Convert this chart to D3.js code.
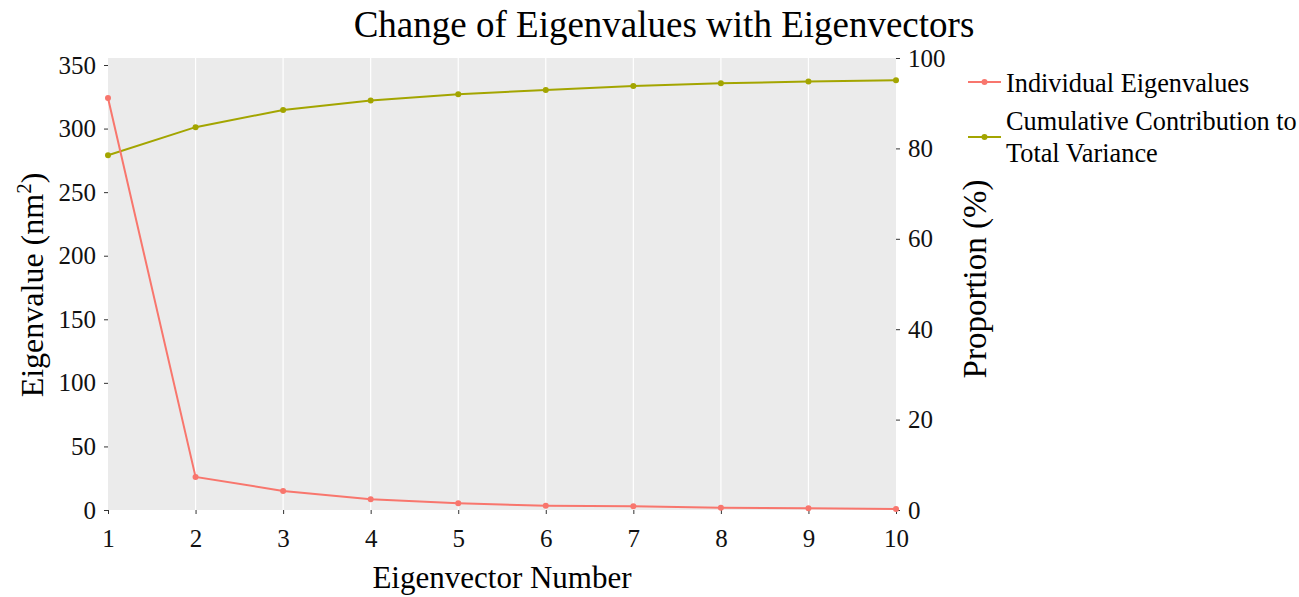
<!DOCTYPE html>
<html><head><meta charset="utf-8">
<script src="https://cdn.jsdelivr.net/npm/d3@7"></script>
<style>body{margin:0;background:#fff}svg text{font-family:"Liberation Serif","Times New Roman",serif;}</style>
</head><body>
<svg id="c" width="1299" height="597"></svg>
<script>
const eigenvectors = [1,2,3,4,5,6,7,8,9,10];
const eigenvalues = [324, 26, 15, 8.5, 5.3, 3.4, 2.9, 1.8, 1.3, 0.8];
const cumulative = [78.5, 84.7, 88.5, 90.6, 92.0, 92.9, 93.8, 94.4, 94.8, 95.1];
const leftTicks = [0,50,100,150,200,250,300,350];
const rightTicks = [0,20,40,60,80,100];
const seriesNames = ["Individual Eigenvalues", ["Cumulative Contribution to","Total Variance"]];
const colors = ["#F8766D", "#A3A500"];

const svg = d3.select("#c");
const L = 108, R = 896, T = 58, B = 510;
const x = d3.scaleLinear().domain([1,10]).range([L,R]);
const yL = d3.scaleLinear().domain([0, 350*(B-T)/(B-65)]).range([B,T]);
const yR = d3.scaleLinear().domain([0,100]).range([B,T]);

svg.append("rect").attr("x",L).attr("y",T).attr("width",R-L).attr("height",B-T).attr("fill","#EBEBEB");
svg.append("g").selectAll("line").data(eigenvectors.slice(1,-1)).join("line")
  .attr("x1",d=>x(d)).attr("x2",d=>x(d)).attr("y1",T).attr("y2",B)
  .attr("stroke","#fff").attr("stroke-width",1.2);

const fs = 25;
const axL = svg.append("g").attr("transform",`translate(${L},0)`).call(d3.axisLeft(yL).tickValues(leftTicks).tickSize(4).tickPadding(8));
const axR = svg.append("g").attr("transform",`translate(${R},0)`).call(d3.axisRight(yR).tickValues(rightTicks).tickSize(4).tickPadding(8));
const axB = svg.append("g").attr("transform",`translate(0,${B})`).call(d3.axisBottom(x).tickValues(eigenvectors).tickFormat(d3.format("d")).tickSize(4).tickPadding(15));
[axL,axR,axB].forEach(a=>{
  a.select(".domain").remove();
  a.selectAll(".tick line").attr("stroke","#333");
  a.selectAll(".tick text").attr("fill","#111").style("font-size",fs+"px").style("font-family",'"Liberation Serif",serif');
});

const lineL = d3.line().x((d,i)=>x(eigenvectors[i])).y(d=>yL(d));
const lineR = d3.line().x((d,i)=>x(eigenvectors[i])).y(d=>yR(d));
svg.append("path").datum(cumulative).attr("d",lineR).attr("fill","none").attr("stroke",colors[1]).attr("stroke-width",2);
svg.append("g").selectAll("circle").data(cumulative).join("circle")
  .attr("cx",(d,i)=>x(eigenvectors[i])).attr("cy",d=>yR(d)).attr("r",3).attr("fill",colors[1]);
svg.append("path").datum(eigenvalues).attr("d",lineL).attr("fill","none").attr("stroke",colors[0]).attr("stroke-width",2);
svg.append("g").selectAll("circle").data(eigenvalues).join("circle")
  .attr("cx",(d,i)=>x(eigenvectors[i])).attr("cy",d=>yL(d)).attr("r",3).attr("fill",colors[0]);

// title
svg.append("text").attr("x",664).attr("y",37).attr("text-anchor","middle").style("font-size","37px").attr("fill","#000")
  .text("Change of Eigenvalues with Eigenvectors");
// x title
svg.append("text").attr("x",502).attr("y",588).attr("text-anchor","middle").style("font-size","31px").attr("fill","#000")
  .text("Eigenvector Number");
// left y title
const lt = svg.append("text").attr("transform",`translate(43,285) rotate(-90)`).attr("text-anchor","middle").style("font-size","32px").attr("fill","#000");
lt.append("tspan").text("Eigenvalue (nm");
lt.append("tspan").attr("baseline-shift","super").style("font-size","21px").text("2");
lt.append("tspan").text(")");
// right y title
svg.append("text").attr("transform",`translate(986,279) rotate(-90)`).attr("text-anchor","middle").style("font-size","33px").attr("fill","#000")
  .text("Proportion (%)");

// legend
const lg = svg.append("g");
const keyY = [82, 137];
keyY.forEach((ky,i)=>{
  lg.append("line").attr("x1",968).attr("x2",1001).attr("y1",ky).attr("y2",ky).attr("stroke",colors[i]).attr("stroke-width",2);
  lg.append("circle").attr("cx",984.5).attr("cy",ky).attr("r",3).attr("fill",colors[i]);
});
lg.append("text").attr("x",1006).attr("y",92).style("font-size","26.3px").attr("fill","#000").text(seriesNames[0]);
seriesNames[1].forEach((t,j)=>{
  lg.append("text").attr("x",1006).attr("y",130+j*32).style("font-size","26.3px").attr("fill","#000").text(t);
});
</script>
</body></html>
